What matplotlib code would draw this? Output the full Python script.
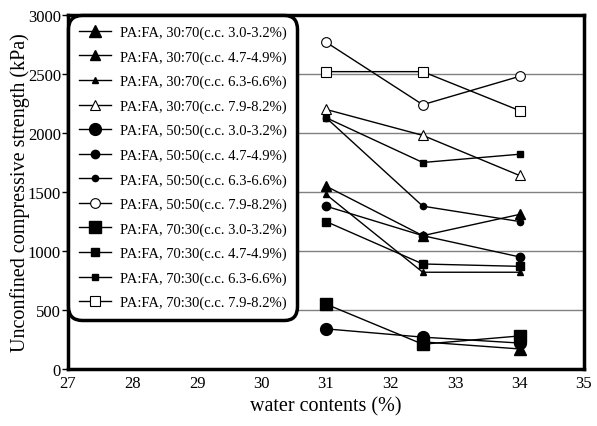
import numpy as np
import matplotlib.pyplot as plt

plt.rcParams['font.family'] = ['Liberation Serif', 'DejaVu Serif']

# water contents (%) at which the specimens were tested
water = [31.0, 32.5, 34.0]

labels = [
    'PA:FA, 30:70(c.c. 3.0-3.2%)',
    'PA:FA, 30:70(c.c. 4.7-4.9%)',
    'PA:FA, 30:70(c.c. 6.3-6.6%)',
    'PA:FA, 30:70(c.c. 7.9-8.2%)',
    'PA:FA, 50:50(c.c. 3.0-3.2%)',
    'PA:FA, 50:50(c.c. 4.7-4.9%)',
    'PA:FA, 50:50(c.c. 6.3-6.6%)',
    'PA:FA, 50:50(c.c. 7.9-8.2%)',
    'PA:FA, 70:30(c.c. 3.0-3.2%)',
    'PA:FA, 70:30(c.c. 4.7-4.9%)',
    'PA:FA, 70:30(c.c. 6.3-6.6%)',
    'PA:FA, 70:30(c.c. 7.9-8.2%)',
]

# unconfined compressive strength (kPa); nan = not measured
ucs_30_70 = [
    [np.nan, 230, 170],
    [1550, 1130, 1310],
    [1480, 820, 820],
    [2200, 1980, 1640],
]
ucs_50_50 = [
    [340, 270, 220],
    [1380, 1130, 950],
    [2130, 1380, 1250],
    [2770, 2240, 2480],
]
ucs_70_30 = [
    [550, 210, 280],
    [1250, 890, 870],
    [2130, 1750, 1820],
    [2520, 2520, 2190],
]

fig = plt.figure(figsize=(5.97, 4.27), dpi=100)
ax = fig.add_axes([68/597, 1-370/427, 516/597, 354/427])

# filled marker sizes for the three lower cement contents
sizes = {'^': [9, 6.5, 5], 'o': [8.5, 6, 4.5], 's': [8.5, 6, 4.5]}
groups = [('^', ucs_30_70), ('o', ucs_50_50), ('s', ucs_70_30)]
i = 0
for mk, group in groups:
    for j, vals in enumerate(group):
        if j < 3:
            ax.plot(water, vals, color='k', lw=1, marker=mk, ms=sizes[mk][j],
                    mfc='k', mec='k', label=labels[i], zorder=3)
        else:
            ax.plot(water, vals, color='k', lw=1, marker=mk, ms=7,
                    mfc='white', mec='k', mew=0.8, label=labels[i], zorder=3)
        i += 1

ax.set_xlim(27, 35)
ax.set_ylim(0, 3000)
ax.set_xticks(np.arange(27, 36, 1))
ax.set_yticks(np.arange(0, 3001, 500))
ax.yaxis.grid(True, color='#808080', lw=1)
ax.set_axisbelow(True)
for s in ax.spines.values():
    s.set_linewidth(2.5)
ax.tick_params(axis='y', direction='out', length=4, width=1, labelsize=12, pad=1)
ax.tick_params(axis='x', length=0, labelsize=12, pad=4)

ax.set_xlabel('water contents (%)', fontsize=14.5)
ax.set_ylabel('Unconfined compressive strength (kPa)', fontsize=14.5)
ax.xaxis.set_label_coords(0.5, -0.105)
ax.xaxis.label.set_va('center')
ax.yaxis.set_label_coords(-0.093, 0.5)
ax.yaxis.label.set_va('center')

leg = ax.legend(loc='upper left', bbox_to_anchor=(0, 1), fontsize=10.5,
                frameon=True, fancybox=True, framealpha=1, edgecolor='k',
                labelspacing=0.76, handlelength=2.2, handletextpad=0.63,
                borderaxespad=0, borderpad=0.73)
frame = leg.get_frame()
frame.set_linewidth(2.5)
frame.set_boxstyle('round,pad=0,rounding_size=0.95')
leg.set_zorder(5)

fig.savefig('out.png', dpi=100)
